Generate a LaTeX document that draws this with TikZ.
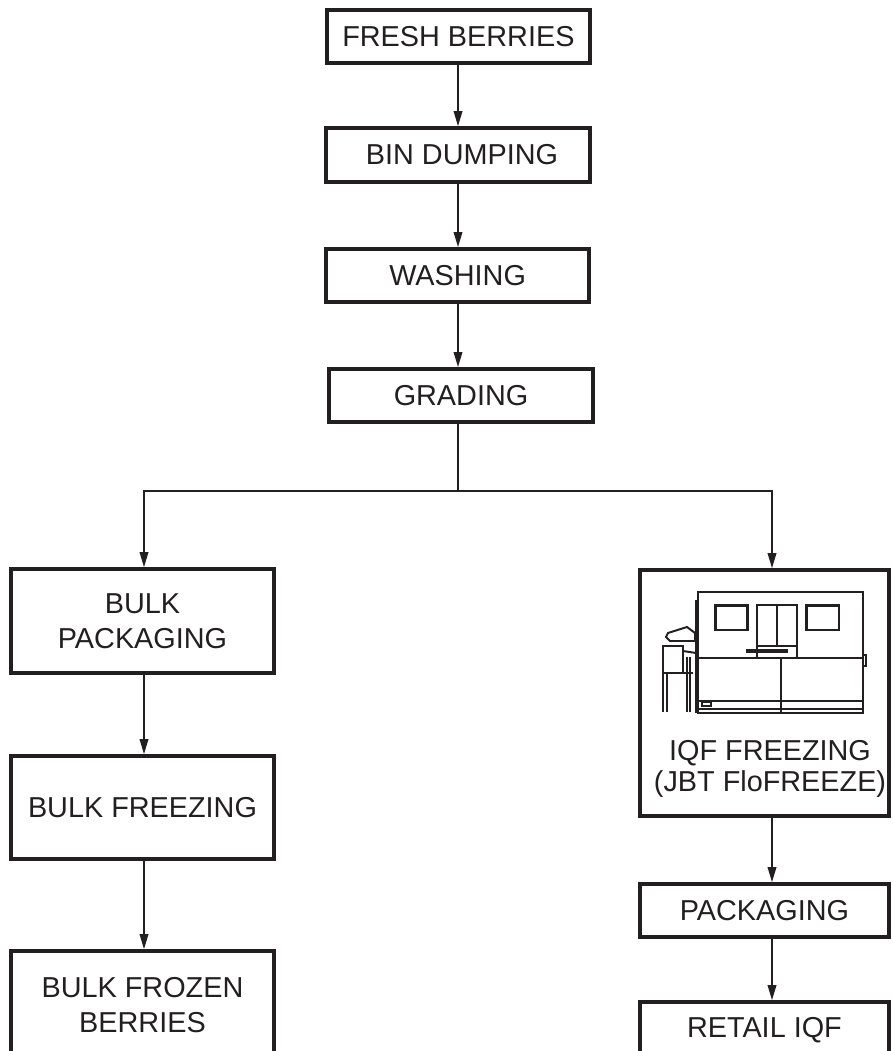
\documentclass[tikz,border=0pt]{standalone}
\usepackage{fontspec}
\setmainfont{Liberation Sans}
\usetikzlibrary{arrows.meta}
\definecolor{ink}{HTML}{231F20}
\tikzset{
  stage/.style={draw=ink, line width=2.3pt, fill=white, align=center, inner sep=0pt,
    text=ink, font=\fontsize{20.5}{25}\selectfont},
  wire/.style={draw=ink, line width=1.5pt},
  flow/.style={wire, -{Triangle[length=3.8mm,width=2.1mm]}},
}
\begin{document}
\begin{tikzpicture}
\useasboundingbox (0,0) rectangle (22.325,26.275);
\clip (0,0) rectangle (22.325,26.275);
% main line
\node[stage, minimum width=6.575cm, minimum height=1.325cm] (fresh) at (11.46,25.36) {FRESH BERRIES};
\node[stage, minimum width=6.6cm, minimum height=1.35cm] (bin) at (11.45,22.4) {\ BIN DUMPING};
\node[stage, minimum width=6.575cm, minimum height=1.325cm] (wash) at (11.44,19.39) {WASHING};
\node[stage, minimum width=6.6cm, minimum height=1.325cm] (grad) at (11.525,16.39) {GRADING};
\coordinate (trunk) at (11.45,14);
\coordinate (lsplit) at (3.6,14);
\coordinate (rsplit) at (19.3,14);
% bulk line
\node[stage, minimum width=6.575cm, minimum height=2.6cm] (bpack) at (3.5625,10.75) {BULK\\PACKAGING};
\node[stage, minimum width=6.575cm, minimum height=2.575cm] (bfreeze) at (3.5625,6.0875) {BULK FREEZING};
\node[stage, minimum width=6.575cm, minimum height=2.7cm] (bfrozen) at (3.5625,1.15) {BULK FROZEN\\BERRIES};
% iqf line
\node[stage, minimum width=6.225cm, minimum height=6.15cm] (iqf) at (19.11,8.95) {};
\node[text=ink, align=center, font=\fontsize{20.5}{22}\selectfont] (iqflabel) at (19.25,7.05) {IQF FREEZING\\(JBT FloFREEZE)};
\node[stage, minimum width=6.225cm, minimum height=1.325cm] (pack) at (19.11,3.5125) {PACKAGING};
\node[stage, minimum width=6.225cm, minimum height=1.4cm] (retail) at (19.11,0.525) {RETAIL IQF};
% arrows
\draw[flow] (fresh.south -| trunk) -- (bin.north -| trunk);
\draw[flow] (bin.south -| trunk) -- (wash.north -| trunk);
\draw[flow] (wash.south -| trunk) -- (grad.north -| trunk);
\draw[wire] (grad.south -| trunk) -- (trunk);
\draw[flow] (trunk) -| (bpack.north -| lsplit);
\draw[flow] (trunk) -| (iqf.north -| rsplit);
\draw[flow] (bpack.south -| lsplit) -- (bfreeze.north -| lsplit);
\draw[flow] (bfreeze.south -| lsplit) -- (bfrozen.north -| lsplit);
\draw[flow] (iqf.south -| rsplit) -- (pack.north -| rsplit);
\draw[flow] (pack.south -| rsplit) -- (retail.north -| rsplit);
% freezer sketch
\begin{scope}[draw=ink, line width=1.4pt]
\draw (17.45,8.45) rectangle (21.575,11.475);
\draw (17.39,11.275) -- (17.39,8.45);
\draw (17.45,9.82) -- (21.575,9.82);
\draw (19.525,9.82) -- (19.525,8.45);
\draw (17.45,8.75) -- (21.575,8.75) (17.45,8.55) -- (21.575,8.55);
\draw (21.575,9.625) rectangle (21.65,9.9);
\draw[line width=2pt] (17.89,10.525) rectangle (18.69,11.13);
\draw[line width=2pt] (20.17,10.525) rectangle (20.975,11.13);
\draw (18.92,9.82) -- (18.92,11.15) -- (19.92,11.15) -- (19.92,9.82);
\draw (19.42,11.15) -- (19.42,10.13);
\draw (18.92,10.13) -- (19.92,10.13);
\draw[line width=2.5pt] (18.64,10.0) -- (19.69,10.0);
\draw (17.55,8.63) rectangle (17.775,8.72);
% feeder
\draw (16.65,10.35) -- (16.7,10.45) -- (17.175,10.6) -- (17.375,10.45) -- (17.375,10.25) -- (16.75,10.25) -- cycle;
\draw (16.58,8.48) -- (16.58,10.125) -- (17.07,10.125) -- (17.07,9.48);
\draw (16.675,8.48) -- (16.675,9.46);
\draw (16.58,9.46) -- (17.33,9.46);
\draw (17.17,9.86) -- (17.17,8.48) (17.25,9.86) -- (17.25,8.48);
\draw (17.07,10.0) -- (17.4,9.95);
\end{scope}
\end{tikzpicture}
\end{document}
